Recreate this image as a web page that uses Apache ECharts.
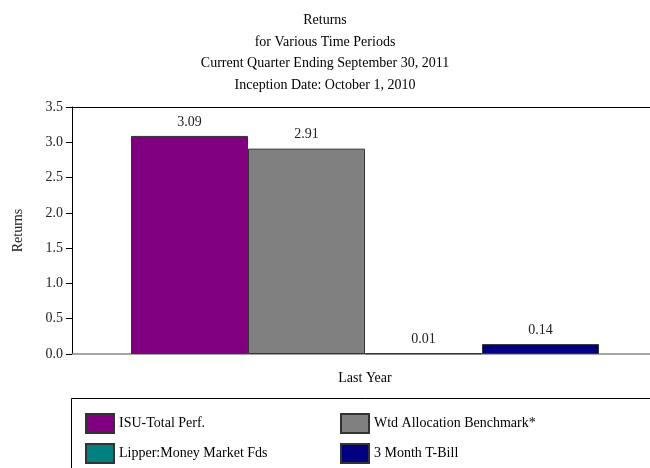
<!DOCTYPE html>
<html><head><meta charset="utf-8">
<script src="https://cdn.jsdelivr.net/npm/echarts@6/dist/echarts.min.js"></script>
<style>html,body{margin:0;padding:0;background:#fff;overflow:hidden}#c{width:658px;height:468px}</style>
</head><body><div id="c"></div>
<script>
var categories = ['Last Year'];
var seriesNames = ['ISU-Total Perf.', 'Wtd Allocation Benchmark*', 'Lipper:Money Market Fds', '3 Month T-Bill'];
var seriesValues = [[3.09], [2.91], [0.01], [0.14]];
var seriesColors = ['#800080', '#808080', '#008080', '#000080'];
var titleLines = ['Returns', 'for Various Time Periods', 'Current Quarter Ending September 30, 2011', 'Inception Date: October 1, 2010'];

var F = 'Liberation Serif, Times New Roman, serif';
var chart = echarts.init(document.getElementById('c'));
var series = seriesNames.map(function (n, i) {
  return {
    name: n, type: 'bar', data: seriesValues[i], barGap: '0%', barWidth: 117,
    itemStyle: { color: seriesColors[i], borderColor: '#333', borderWidth: 1 },
    label: { show: true, position: 'top', distance: 7, color: '#222', fontFamily: F, fontSize: 14,
      formatter: function (p) { return p.value.toFixed(2); } }
  };
});
var legendPos = [[80, 408], [335, 408], [80, 438], [335, 438]];
var legends = seriesNames.map(function (n, i) {
  return {
    data: [n], left: legendPos[i][0], top: legendPos[i][1],
    itemWidth: 28, itemHeight: 19, itemGap: 10, icon: 'rect', selectedMode: false,
    textStyle: { fontFamily: F, fontSize: 14, color: '#000' }
  };
});
chart.setOption({
  animation: false,
  grid: { left: 72, right: 0, top: 107, bottom: 114 },
  xAxis: [{
    type: 'category', data: categories,
    axisLine: { lineStyle: { color: '#888', width: 1.5 } }, axisTick: { show: false },
    axisLabel: { margin: 17, color: '#000', fontFamily: F, fontSize: 14 }
  }, {
    type: 'category', data: categories, position: 'top',
    axisLine: { lineStyle: { color: '#000' } }, axisTick: { show: false }, axisLabel: { show: false }
  }],
  yAxis: {
    type: 'value', min: 0, max: 3.5, interval: 0.5, name: 'Returns', nameLocation: 'middle', nameGap: 47,
    nameTextStyle: { fontFamily: F, fontSize: 14, color: '#222' },
    axisLine: { show: true, lineStyle: { color: '#000' } },
    axisTick: { show: true, length: 6, lineStyle: { color: '#000' } },
    axisLabel: { margin: 9, color: '#222', fontFamily: F, fontSize: 14, formatter: function (v) { return v.toFixed(1); } },
    splitLine: { show: false }
  },
  legend: legends,
  graphic: [
    { type: 'text', x: 325, y: 10, style: { text: titleLines.join('\n'), align: 'center', verticalAlign: 'top',
      fontFamily: F, fontSize: 14, lineHeight: 21.5, fill: '#000' } },
    { type: 'rect', shape: { x: 71.5, y: 398.5, width: 600, height: 90 },
      style: { fill: 'none', stroke: '#000', lineWidth: 1 } }
  ],
  series: series
});
</script></body></html>
